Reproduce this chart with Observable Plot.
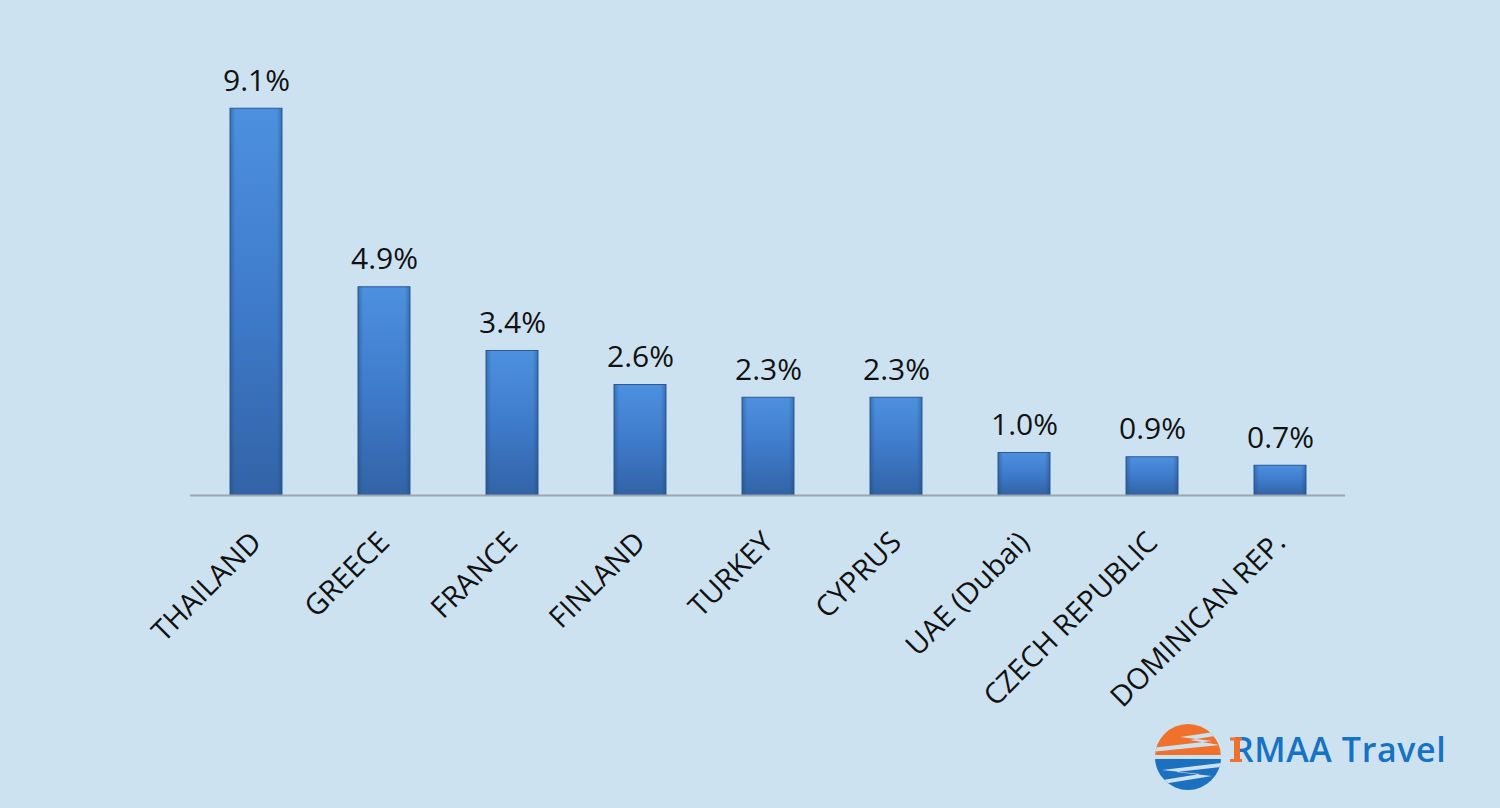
<!DOCTYPE html>
<html>
<head>
<meta charset="utf-8">
<script src="https://cdn.jsdelivr.net/npm/d3@7"></script>
<script src="https://cdn.jsdelivr.net/npm/@observablehq/plot@0.6"></script>
<style>
  html, body { margin: 0; padding: 0; background: #cde2f1; }
  #wrap { position: relative; width: 1500px; height: 808px; overflow: hidden; }
  #logo { position: absolute; left: 1150px; top: 722px; }
</style>
</head>
<body>
<div id="wrap">
  <div id="chart"></div>
  <svg id="logo" width="330" height="80" viewBox="0 0 330 80">
    <defs>
      <clipPath id="lc"><circle cx="38" cy="35" r="33"/></clipPath>
    </defs>
    <g clip-path="url(#lc)">
      <rect x="0" y="0" width="80" height="33" fill="#f0712b"/>
      <rect x="0" y="37" width="80" height="40" fill="#1b70bf"/>
      <path d="M0 30 L70 23 L40 18 L78 12 L78 8 L30 15 L62 19 L0 26 Z" fill="#cde2f1"/>
      <path d="M0 33 L80 33 L80 37 L0 37 Z" fill="#cde2f1"/>
      <path d="M80 40 L12 48 L50 52 L0 60 L0 64 L62 54 L26 50 L80 44 Z" fill="#cde2f1"/>
    </g>
    <text x="82" y="40" font-family="'Open Sans', sans-serif" font-size="34" font-weight="600" letter-spacing="0.6" fill="#1672c4">RMAA Travel</text>
    <rect x="84" y="15.5" width="6" height="24.5" fill="#f0712b"/>
    <rect x="80" y="15.5" width="12" height="3" fill="#f0712b"/>
    <rect x="80" y="37" width="12" height="3" fill="#f0712b"/>
  </svg>
</div>
<script>
const countries = ["THAILAND", "GREECE", "FRANCE", "FINLAND", "TURKEY", "CYPRUS", "UAE (Dubai)", "CZECH REPUBLIC", "DOMINICAN REP."];
const shares = [9.1, 4.9, 3.4, 2.6, 2.3, 2.3, 1.0, 0.9, 0.7];
const valueLabels = ["9.1%", "4.9%", "3.4%", "2.6%", "2.3%", "2.3%", "1.0%", "0.9%", "0.7%"];

const data = countries.map((c, i) => ({country: c, value: shares[i], label: valueLabels[i]}));

const chart = Plot.plot({
  width: 1500,
  height: 808,
  marginLeft: 190,
  marginRight: 155,
  marginTop: 70,
  marginBottom: 313,
  style: {background: "transparent", fontFamily: "'Open Sans', Lato, sans-serif"},
  x: {domain: countries, paddingInner: 0.595, paddingOuter: 0.2975, axis: null},
  y: {domain: [0, 10], axis: null},
  marks: [
    Plot.barY(data, {x: "country", y: "value", fill: "url(#barGrad)", stroke: "#2d5a94", strokeWidth: 1}),
    Plot.barY(data, {x: "country", y: "value", fill: "url(#edgeGrad)"}),
    Plot.ruleY([0], {stroke: "#9aa6b0", strokeWidth: 2}),
    Plot.text(data, {x: "country", y: "value", text: "label", dy: -18, lineAnchor: "bottom", fontSize: 30, fill: "#111"}),
    Plot.text(data, {x: "country", y: () => 0, text: "country", rotate: -45, textAnchor: "end", lineAnchor: "middle", dy: 42, dx: 0, fontSize: 29, fill: "#111"})
  ]
});

const defs = d3.select(chart).insert("defs", ":first-child");
const g1 = defs.append("linearGradient").attr("id", "barGrad").attr("x1", 0).attr("y1", 0).attr("x2", 0).attr("y2", 1);
g1.append("stop").attr("offset", "0%").attr("stop-color", "#4d90e0");
g1.append("stop").attr("offset", "50%").attr("stop-color", "#3f7bcb");
g1.append("stop").attr("offset", "100%").attr("stop-color", "#3263a6");
const g2 = defs.append("linearGradient").attr("id", "edgeGrad").attr("x1", 0).attr("y1", 0).attr("x2", 1).attr("y2", 0);
g2.append("stop").attr("offset", "0%").attr("stop-color", "#1f4a80").attr("stop-opacity", 0.45);
g2.append("stop").attr("offset", "10%").attr("stop-color", "#1f4a80").attr("stop-opacity", 0);
g2.append("stop").attr("offset", "90%").attr("stop-color", "#1f4a80").attr("stop-opacity", 0);
g2.append("stop").attr("offset", "100%").attr("stop-color", "#1f4a80").attr("stop-opacity", 0.45);

document.getElementById("chart").appendChild(chart);
</script>
</body>
</html>
